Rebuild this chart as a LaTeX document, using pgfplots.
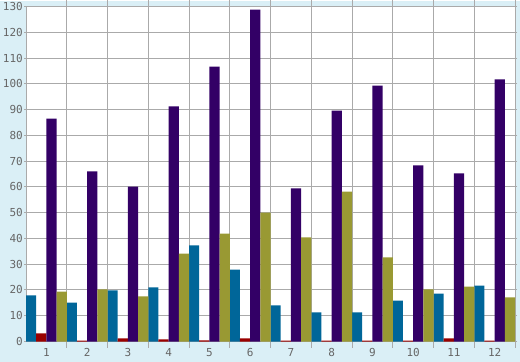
\documentclass[border=0pt]{standalone}
\usepackage{pgfplots}
\usepackage{pgfplotstable}
\pgfplotsset{compat=1.18}
\usepackage{fontspec}
\setmainfont{DejaVu Sans Mono}
\definecolor{bgc}{HTML}{DAEFF6}
\definecolor{gridc}{HTML}{AAAAAA}
\definecolor{lblc}{HTML}{666666}
\definecolor{sblue}{HTML}{006699}
\definecolor{sred}{HTML}{990000}
\definecolor{spurple}{HTML}{330066}
\definecolor{solive}{HTML}{999933}
\pgfplotstableread{
x blue red purple olive
1 17.9 3.2 86.5 19.4
2 15.1 0.3 66.0 20.2
3 19.8 1.2 60.1 17.5
4 21.0 0.8 91.2 34.1
5 37.3 0.4 106.7 41.9
6 27.9 1.2 128.8 50.0
7 14.0 0.3 59.4 40.4
8 11.3 0.3 89.6 58.2
9 11.3 0.3 99.3 32.6
10 15.9 0.3 68.3 20.2
11 18.6 1.2 65.2 21.3
12 21.7 0.3 101.7 17.1
}\datatab
\begin{document}
\begin{tikzpicture}[x=1bp,y=1bp]
\fill[bgc] (0,0) rectangle (520,360);
\begin{axis}[
  at={(26bp,20bp)}, anchor=south west, scale only axis,
  width=489bp, height=335bp,
  xmin=0.5, xmax=12.5, ymin=0, ymax=130,
  axis background/.style={fill=white},
  axis line style={gridc, line width=1bp},
  xtick={1,...,12},
  minor xtick={1.5,2.5,...,12.5},
  ytick={0,10,...,130},
  major x tick style={draw=none},
  minor x tick style={gridc, line width=1bp},
  y tick style={gridc, line width=1bp},
  xminorgrids=true, ymajorgrids=true,
  grid style={gridc, line width=1bp},
  minor grid style={gridc, line width=1bp},
  tick align=outside,
  major tick length=2bp, minor tick length=6bp,
  ticklabel style={font=\fontsize{11bp}{12bp}\selectfont, text=lblc},
  /pgf/number format/assume math mode=true,
  yticklabel style={inner sep=0pt, xshift=-1bp},
  xticklabel style={inner sep=0pt, yshift=-5bp},
]
\addplot[ybar, fill=sblue, draw=none, bar width=0.25, bar shift=-0.375] table[x=x, y=blue] {\datatab};
\addplot[ybar, fill=sred, draw=none, bar width=0.25, bar shift=-0.125] table[x=x, y=red] {\datatab};
\addplot[ybar, fill=spurple, draw=none, bar width=0.25, bar shift=0.125] table[x=x, y=purple] {\datatab};
\addplot[ybar, fill=solive, draw=none, bar width=0.25, bar shift=0.375] table[x=x, y=olive] {\datatab};
\end{axis}
\end{tikzpicture}
\end{document}
